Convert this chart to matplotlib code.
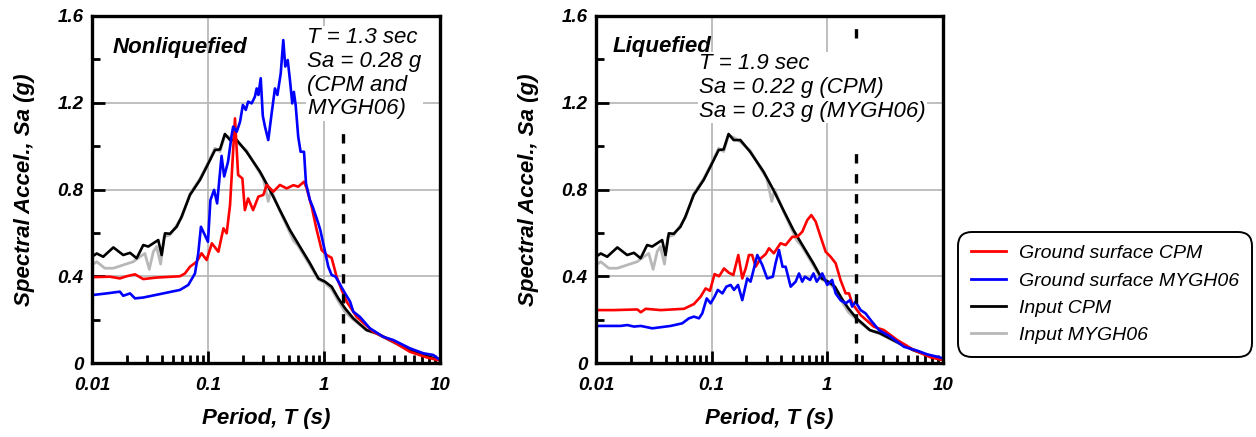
import matplotlib
matplotlib.use("Agg")
import matplotlib.pyplot as plt
from matplotlib.ticker import FixedLocator, NullFormatter

plt.rcParams['font.family'] = ['Liberation Sans', 'DejaVu Sans']

# input motions (same in both panels)
T_in_cpm = [0.01, 0.011, 0.0125, 0.0153, 0.0186, 0.0213, 0.0243, 0.0277, 0.0306, 0.0373,
            0.0399, 0.0426, 0.047, 0.0537, 0.0593, 0.07, 0.0853, 0.0975, 0.115, 0.127,
            0.140, 0.155, 0.177, 0.215, 0.263, 0.281, 0.342, 0.417, 0.509, 0.621,
            0.757, 0.894, 1.02, 1.164, 1.33, 1.52, 1.79, 2.33, 2.85, 3.96, 5.5, 7.67, 10]
Sa_in_cpm = [0.49, 0.505, 0.49, 0.533, 0.498, 0.508, 0.483, 0.544, 0.537, 0.567,
             0.498, 0.598, 0.596, 0.628, 0.675, 0.775, 0.844, 0.905, 0.982, 0.985,
             1.056, 1.028, 1.028, 0.974, 0.905, 0.882, 0.798, 0.705, 0.613, 0.536,
             0.46, 0.39, 0.375, 0.352, 0.298, 0.252, 0.206, 0.152, 0.137, 0.098, 0.06, 0.032, 0.014]

T_in_mygh = [0.01, 0.011, 0.0129, 0.0153, 0.0186, 0.0227, 0.0259, 0.0286, 0.0312, 0.0338,
             0.0361, 0.0391, 0.0418, 0.047, 0.0537, 0.0593, 0.07, 0.0853, 0.0975, 0.115,
             0.127, 0.14, 0.155, 0.177, 0.215, 0.263, 0.30, 0.331, 0.35, 0.417,
             0.509, 0.545, 0.60, 0.757, 0.894, 1.02, 1.164, 1.33, 1.52, 1.79,
             2.33, 2.85, 3.96, 5.5, 7.67, 10]
Sa_in_mygh = [0.452, 0.467, 0.437, 0.437, 0.452, 0.467, 0.49, 0.505, 0.432, 0.513,
              0.537, 0.456, 0.582, 0.59, 0.635, 0.67, 0.78, 0.85, 0.91, 0.99,
              0.975, 1.05, 1.04, 1.02, 0.98, 0.90, 0.85, 0.745, 0.80, 0.70,
              0.60, 0.565, 0.54, 0.45, 0.385, 0.37, 0.34, 0.285, 0.235, 0.20,
              0.15, 0.135, 0.095, 0.06, 0.033, 0.014]

# ground surface, nonliquefied
T_nl_cpm = [0.01, 0.0143, 0.0174, 0.0199, 0.0235, 0.0277, 0.036, 0.0574, 0.0634, 0.070,
            0.080, 0.088, 0.0975, 0.108, 0.123, 0.136, 0.145, 0.155, 0.171, 0.182,
            0.198, 0.208, 0.222, 0.245, 0.272, 0.30, 0.321, 0.366, 0.417, 0.477,
            0.545, 0.60, 0.673, 0.71, 0.784, 0.866, 0.955, 1.055, 1.164, 1.285,
            1.42, 1.57, 1.91, 2.66, 3.96, 5.5, 7.67, 10]
Sa_nl_cpm = [0.396, 0.398, 0.39, 0.40, 0.409, 0.387, 0.394, 0.40, 0.413, 0.444,
             0.467, 0.506, 0.475, 0.552, 0.513, 0.621, 0.598, 0.728, 1.128, 0.867,
             0.851, 0.705, 0.759, 0.705, 0.767, 0.775, 0.821, 0.79, 0.821, 0.805,
             0.82, 0.813, 0.836, 0.805, 0.72, 0.613, 0.521, 0.498, 0.485, 0.398,
             0.337, 0.283, 0.213, 0.144, 0.098, 0.052, 0.026, 0.011]

T_nl_mygh = [0.01, 0.0134, 0.0174, 0.0186, 0.0213, 0.0235, 0.0277, 0.0412, 0.0574, 0.0677,
             0.0773, 0.0825, 0.087, 0.094, 0.10, 0.105, 0.113, 0.12, 0.131, 0.138,
             0.149, 0.16, 0.165, 0.177, 0.189, 0.20, 0.212, 0.222, 0.238, 0.254,
             0.263, 0.272, 0.285, 0.297, 0.31, 0.331, 0.354, 0.378, 0.397, 0.424,
             0.446, 0.464, 0.487, 0.509, 0.533, 0.55, 0.57, 0.60, 0.629, 0.673,
             0.70, 0.757, 0.80, 0.894, 0.93, 0.985, 1.09, 1.164, 1.26, 1.41,
             1.52, 1.68, 1.79, 2.04, 2.49, 3.24, 3.96, 5.5, 7.18, 8.77, 10]
Sa_nl_mygh = [0.313, 0.321, 0.329, 0.31, 0.321, 0.298, 0.302, 0.321, 0.337, 0.36,
              0.413, 0.506, 0.628, 0.59, 0.559, 0.751, 0.798, 0.736, 0.955, 0.86,
              0.928, 1.05, 1.09, 1.066, 1.112, 1.19, 1.167, 1.205, 1.197, 1.228,
              1.266, 1.236, 1.313, 1.14, 1.09, 1.028, 1.151, 1.266, 1.236, 1.336,
              1.489, 1.367, 1.397, 1.305, 1.197, 1.25, 1.19, 1.043, 0.974, 0.974,
              0.828, 0.751, 0.72, 0.644, 0.613, 0.552, 0.444, 0.406, 0.398, 0.352,
              0.321, 0.283, 0.237, 0.213, 0.16, 0.121, 0.106, 0.068, 0.045, 0.037, 0.014]

# ground surface, liquefied
T_lq_cpm = [0.01, 0.0143, 0.0228, 0.0244, 0.0269, 0.0362, 0.0577, 0.0703, 0.0803, 0.0887,
            0.0967, 0.106, 0.116, 0.128, 0.141, 0.154, 0.17, 0.184, 0.197, 0.21,
            0.224, 0.24, 0.265, 0.293, 0.313, 0.345, 0.394, 0.436, 0.498, 0.55,
            0.607, 0.671, 0.727, 0.793, 0.875, 0.967, 1.067, 1.18, 1.3, 1.44,
            1.54, 1.64, 1.94, 2.53, 3.08, 4.02, 5.6, 7.82, 10]
Sa_lq_cpm = [0.244, 0.244, 0.247, 0.234, 0.25, 0.244, 0.25, 0.272, 0.306, 0.344,
             0.333, 0.41, 0.40, 0.436, 0.416, 0.406, 0.498, 0.39, 0.436, 0.498,
             0.498, 0.444, 0.482, 0.502, 0.529, 0.506, 0.552, 0.544, 0.582, 0.582,
             0.605, 0.659, 0.682, 0.652, 0.582, 0.513, 0.49, 0.46, 0.383, 0.321,
             0.321, 0.275, 0.221, 0.167, 0.152, 0.106, 0.06, 0.026, 0.014]

T_lq_mygh = [0.01, 0.0163, 0.0187, 0.0213, 0.0244, 0.0307, 0.0442, 0.0557, 0.0636, 0.0703,
             0.0777, 0.083, 0.0906, 0.098, 0.106, 0.113, 0.124, 0.134, 0.146, 0.156,
             0.169, 0.184, 0.203, 0.217, 0.232, 0.248, 0.274, 0.302, 0.338, 0.357,
             0.382, 0.41, 0.436, 0.482, 0.532, 0.569, 0.607, 0.64, 0.71, 0.759,
             0.81, 0.904, 0.998, 1.1, 1.18, 1.3, 1.44, 1.57, 1.64, 1.75,
             1.94, 2.14, 2.37, 2.79, 3.52, 4.59, 5.98, 7.3, 8.9, 10]
Sa_lq_mygh = [0.171, 0.171, 0.175, 0.168, 0.171, 0.16, 0.171, 0.183, 0.206, 0.214,
              0.206, 0.229, 0.298, 0.275, 0.306, 0.337, 0.321, 0.352, 0.36, 0.337,
              0.36, 0.29, 0.39, 0.375, 0.436, 0.498, 0.452, 0.39, 0.398, 0.46,
              0.521, 0.444, 0.444, 0.352, 0.375, 0.413, 0.375, 0.398, 0.383, 0.413,
              0.375, 0.413, 0.36, 0.383, 0.321, 0.29, 0.275, 0.29, 0.26, 0.283,
              0.244, 0.229, 0.198, 0.152, 0.121, 0.075, 0.057, 0.04, 0.029, 0.022]

legend_labels = ['Ground surface CPM', 'Ground surface MYGH06', 'Input CPM', 'Input MYGH06']
x_ticks = [0.01, 0.1, 1, 10]
x_ticklabels = ['0.01', '0.1', '1', '10']
y_ticks = [0, 0.4, 0.8, 1.2, 1.6]
y_ticklabels = ['0', '0.4', '0.8', '1.2', '1.6']
y_minor = [0.2, 0.6, 1.0, 1.4]

RED = '#ff0000'
BLUE = '#0000ff'
GRAY = '#b8b8b8'


def setup_axes(ax):
    ax.set_xscale('log')
    ax.set_xlim(0.01, 10)
    ax.set_ylim(0, 1.6)
    ax.set_axisbelow(True)
    ax.xaxis.set_major_locator(FixedLocator(x_ticks))
    ax.xaxis.set_minor_locator(FixedLocator([m * d for d in (0.01, 0.1, 1) for m in range(2, 10)]))
    ax.xaxis.set_minor_formatter(NullFormatter())
    ax.set_xticklabels(x_ticklabels)
    ax.set_yticks(y_ticks)
    ax.set_yticklabels(y_ticklabels)
    ax.yaxis.set_minor_locator(FixedLocator(y_minor))
    ax.grid(True, which='major', color='#b4b4b4', lw=1.2)
    ax.tick_params(which='major', direction='in', length=9, width=2, color='black',
                   labelsize=13.5, pad=6)
    ax.tick_params(which='minor', direction='in', length=6, width=2, color='black')
    ax.tick_params(axis='x', which='major', pad=10)
    for lab in ax.get_xticklabels() + ax.get_yticklabels():
        lab.set_fontweight('bold')
        lab.set_fontstyle('italic')
    for sp in ax.spines.values():
        sp.set_linewidth(2.4)
    ax.set_xlabel('Period, T (s)', fontsize=16, fontweight='bold', fontstyle='italic')
    ax.set_ylabel('Spectral Accel., Sa (g)', fontsize=16, fontweight='bold', fontstyle='italic')
    ax.xaxis.set_label_coords(0.5, -0.13)
    ax.yaxis.set_label_coords(-0.165, 0.5)


def draw_curves(ax, T_cpm, Sa_cpm, T_mygh, Sa_mygh):
    h4, = ax.plot(T_in_mygh, Sa_in_mygh, color=GRAY, lw=2)
    h3, = ax.plot(T_in_cpm, Sa_in_cpm, color='black', lw=1.9)
    h1, = ax.plot(T_cpm, Sa_cpm, color=RED, lw=1.9)
    h2, = ax.plot(T_mygh, Sa_mygh, color=BLUE, lw=1.9)
    return [h1, h2, h3, h4]


fig = plt.figure(figsize=(12.56, 4.37), dpi=100)
ax1 = fig.add_axes([0.0732, 0.1693, 0.2771, 0.7941])
ax2 = fig.add_axes([0.4745, 0.1693, 0.2763, 0.7941])

# left: nonliquefied
setup_axes(ax1)
handles = draw_curves(ax1, T_nl_cpm, Sa_nl_cpm, T_nl_mygh, Sa_nl_mygh)
ax1.plot([1.45, 1.45], [0, 1.07], color='black', lw=2.4, dashes=(2.8, 3.2))
ax1.text(0.06, 0.893, 'Nonliquefied', transform=ax1.transAxes, fontsize=16,
         fontweight='bold', fontstyle='italic', va='baseline')
ax1.text(0.618, 0.968, 'T = 1.3 sec\nSa = 0.28 g\n(CPM and\nMYGH06)', transform=ax1.transAxes,
         fontsize=16, fontstyle='italic', va='top', ha='left', linespacing=1.17, zorder=5,
         bbox=dict(facecolor='white', edgecolor='none', pad=1))

# right: liquefied
setup_axes(ax2)
draw_curves(ax2, T_lq_cpm, Sa_lq_cpm, T_lq_mygh, Sa_lq_mygh)
ax2.plot([1.76, 1.76], [0, 1.01], color='black', lw=2.4, dashes=(2.8, 3.2))
ax2.plot([1.76, 1.76], [1.50, 1.56], color='black', lw=2.4, dashes=(2.8, 3.2))
ax2.text(0.049, 0.896, 'Liquefied', transform=ax2.transAxes, fontsize=16,
         fontweight='bold', fontstyle='italic', va='baseline')
ax2.text(0.298, 0.893, 'T = 1.9 sec\nSa = 0.22 g (CPM)\nSa = 0.23 g (MYGH06)', transform=ax2.transAxes,
         fontsize=16, fontstyle='italic', va='top', ha='left', linespacing=1.17, zorder=5,
         bbox=dict(facecolor='white', edgecolor='none', pad=1))

leg = fig.legend(handles, legend_labels, loc='upper left', bbox_to_anchor=(0.7627, 0.4691),
                 borderaxespad=0, prop={'size': 14, 'style': 'italic'}, handlelength=1.8,
                 handletextpad=0.7, labelspacing=0.5, borderpad=0.65, fancybox=True)
frame = leg.get_frame()
frame.set_edgecolor('black')
frame.set_linewidth(1.4)
frame.set_alpha(1)
frame.set_boxstyle('round', pad=0, rounding_size=0.7)
for ln in leg.get_lines():
    ln.set_linewidth(2)

fig.savefig('out.png', dpi=100)
